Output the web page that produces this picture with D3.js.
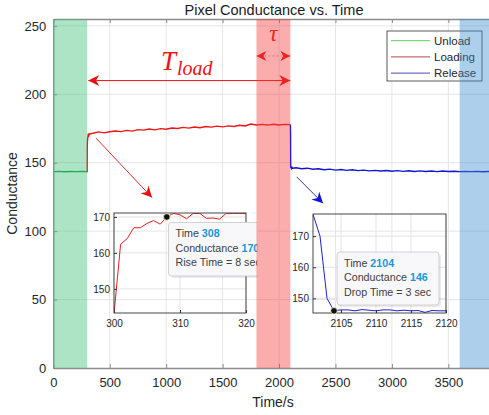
<!DOCTYPE html>
<html lang="en">
<head>
<meta charset="UTF-8">
<title>Pixel Conductance vs. Time</title>
<script src="https://cdn.jsdelivr.net/npm/d3@7"></script>
<style>
    body { margin: 0; background: #fff; }
    svg { font-family: Arial, "Liberation Sans", sans-serif; display: block; }
    .tick text { fill: #262626; }
</style>
</head>
<body>
<svg id="chart" width="489" height="415"></svg>
<script>
// ---- data ----
const xTicks = [0, 500, 1000, 1500, 2000, 2500, 3000, 3500];
const yTicks = [0, 50, 100, 150, 200, 250];

const unloadT = [0, 50, 100, 150, 200, 250, 300];
const unloadV = [143.5, 143.7, 143.4, 143.6, 143.5, 143.6, 143.5];

// rise detail (inset 1)
const riseT = [300, 301, 302, 303, 304, 305, 306, 307, 308, 309, 310, 311, 312, 313, 314, 315, 316, 317, 318, 319, 320];
const riseV = [143, 162.4, 164, 167, 167, 168.2, 169, 168, 170, 171, 170.6, 169.5, 171, 171, 169.6, 169.7, 169.4, 171, 171, 171, 171];

const loadT = [350, 400, 450, 500, 550, 600, 650, 700, 750, 800, 850, 900, 950, 1000, 1050, 1100, 1150, 1200,
    1250, 1300, 1350, 1400, 1450, 1500, 1550, 1600, 1650, 1700, 1750, 1800, 1850, 1900, 1950, 2000, 2050, 2100];
const loadV = [171.5, 172.5, 171.8, 172.6, 173.2, 172.7, 173.6, 173.1, 174.2, 173.8, 174.6, 174.0, 174.9, 174.5,
    175.4, 175.0, 175.8, 175.3, 176.1, 175.6, 176.4, 176.0, 176.7, 176.2, 176.9, 176.5, 177.4, 176.8, 178.3,
    177.6, 178.0, 177.5, 178.1, 177.6, 178.0, 177.8];

// drop detail (inset 2)
const dropT = [2101, 2102, 2103, 2104, 2105, 2106, 2107, 2108, 2109, 2110, 2111, 2112, 2113, 2114, 2115, 2116, 2117, 2118, 2119, 2120];
const dropV = [177, 170, 150, 146, 146.3, 146.3, 146, 146.4, 146.2, 146, 146.3, 146.3, 146, 146.2, 146, 146.1, 145.5, 146.1, 146, 146];

const releaseT = [2150, 2200, 2250, 2300, 2350, 2400, 2450, 2500, 2550, 2600, 2650, 2700, 2750, 2800, 2850, 2900,
    2950, 3000, 3050, 3100, 3150, 3200, 3250, 3300, 3350, 3400, 3450, 3500, 3550, 3600, 3650, 3700, 3750, 3800, 3850, 3900];
const releaseV = [146.3, 145.6, 146.0, 145.2, 145.6, 144.9, 145.3, 144.6, 145.0, 144.4, 144.8, 144.2, 144.6, 144.0,
    144.4, 143.9, 144.3, 143.8, 144.2, 143.7, 144.1, 143.6, 144.0, 143.6, 143.9, 143.5, 143.9, 143.6, 143.8, 143.5,
    143.7, 143.5, 143.7, 143.4, 143.6, 143.5];

const bands = [
    { from: 0, to: 300, color: "rgb(60,190,120)" },
    { from: 1800, to: 2100, color: "rgb(245,60,60)" },
    { from: 3600, to: 3900, color: "rgb(60,140,210)" }
];
const legendNames = ["Unload", "Loading", "Release"];
const legendColors = ["#5ad25a", "#c04545", "#4a4ab8"];

// ---- scales ----
const svg = d3.select("#chart");
const x = d3.scaleLinear().domain([0, 3900]).range([53.3, 493.5]);
const y = d3.scaleLinear().domain([0, 255]).range([368, 19]);
const fmt = d3.format("d");

const pt = (ts, vs) => ts.map((t, i) => [t, vs[i]]);
const line = (sx, sy) => d3.line().x(d => sx(d[0])).y(d => sy(d[1]));

const defs = svg.append("defs");
function marker(id, color, w, h) {
    defs.append("marker").attr("id", id)
        .attr("viewBox", "0 0 10 10").attr("refX", 10).attr("refY", 5)
        .attr("markerWidth", w).attr("markerHeight", h)
        .attr("markerUnits", "userSpaceOnUse").attr("orient", "auto-start-reverse")
        .append("path").attr("d", "M0,0 L10,5 L0,10 L3,5 Z").attr("fill", color);
}
marker("arRed", "#e81010", 14, 11);
marker("arRedS", "#e01010", 12, 10);
marker("arBlue", "#1010e0", 14, 11);

defs.append("clipPath").attr("id", "clipMain").append("rect")
    .attr("x", 53.3).attr("y", 19).attr("width", 440).attr("height", 349);
defs.append("clipPath").attr("id", "clipTip").append("rect")
    .attr("x", 0).attr("y", 0).attr("width", x(1800) + 1).attr("height", 415);

// ---- grid ----
const grid = svg.append("g");
grid.selectAll("line.gx").data(xTicks.slice(1)).enter().append("line")
    .attr("x1", d => x(d)).attr("x2", d => x(d)).attr("y1", y(0)).attr("y2", y(255))
    .attr("stroke", "#e6e6e6");
grid.selectAll("line.gy").data(yTicks.slice(1)).enter().append("line")
    .attr("x1", x(0)).attr("x2", 489).attr("y1", d => y(d)).attr("y2", d => y(d))
    .attr("stroke", "#e6e6e6");

// ---- main series ----
const main = svg.append("g").attr("clip-path", "url(#clipMain)");
main.append("path").datum(pt(unloadT, unloadV)).attr("d", line(x, y))
    .attr("fill", "none").attr("stroke", "#10a040").attr("stroke-width", 1.4);
main.append("path").datum(pt(riseT, riseV).concat(pt(loadT, loadV))).attr("d", line(x, y))
    .attr("fill", "none").attr("stroke", "#f01515").attr("stroke-width", 1.4);
main.append("path").datum([[2100, 177.8]].concat(pt(dropT, dropV), pt(releaseT, releaseV))).attr("d", line(x, y))
    .attr("fill", "none").attr("stroke", "#1515d0").attr("stroke-width", 1.4);

// ---- main axes ----
const axisColor = "#8c8c8c";
const gx = svg.append("g").attr("transform", `translate(0,${y(0)})`)
    .call(d3.axisBottom(x).tickValues(xTicks).tickFormat(fmt).tickSizeInner(-4).tickSizeOuter(0).tickPadding(10));
const gxTop = svg.append("g").attr("transform", `translate(0,${y(255)})`)
    .call(d3.axisTop(x).tickValues(xTicks).tickSizeInner(-4).tickSizeOuter(0).tickFormat(""));
const gy = svg.append("g").attr("transform", `translate(${x(0)},0)`)
    .call(d3.axisLeft(y).tickValues(yTicks).tickFormat(fmt).tickSizeInner(-4).tickSizeOuter(0).tickPadding(7));
[gx, gxTop, gy].forEach(g => {
    g.select(".domain").attr("stroke", axisColor).attr("stroke-width", 1.4);
    g.selectAll(".tick line").attr("stroke", axisColor);
    g.selectAll(".tick text").attr("font-size", 13);
});

// ---- insets ----
function inset(xd, yd, box, xt, yt, data, color) {
    const sx = d3.scaleLinear().domain(xd).range([box[0], box[1]]);
    const sy = d3.scaleLinear().domain(yd).range([box[3], box[2]]);
    const g = svg.append("g");
    const id = "clip" + box[0];
    defs.append("clipPath").attr("id", id).append("rect")
        .attr("x", box[0]).attr("y", box[2]).attr("width", box[1] - box[0]).attr("height", box[3] - box[2]);
    g.selectAll("line.vx").data(xt).enter().append("line")
        .attr("x1", d => sx(d)).attr("x2", d => sx(d)).attr("y1", box[2]).attr("y2", box[3]).attr("stroke", "#e3e3e3");
    g.selectAll("line.hy").data(yt).enter().append("line")
        .attr("x1", box[0]).attr("x2", box[1]).attr("y1", d => sy(d)).attr("y2", d => sy(d)).attr("stroke", "#e3e3e3");
    g.append("path").datum(data).attr("d", line(sx, sy)).attr("clip-path", `url(#${id})`)
        .attr("fill", "none").attr("stroke", color).attr("stroke-width", 1);
    g.append("rect").attr("x", box[0]).attr("y", box[2]).attr("width", box[1] - box[0]).attr("height", box[3] - box[2])
        .attr("fill", "none").attr("stroke", "#333").attr("stroke-width", 0.9);
    const ax = g.append("g").attr("transform", `translate(0,${box[3]})`)
        .call(d3.axisBottom(sx).tickValues(xt).tickFormat(fmt).tickSizeInner(-3).tickSizeOuter(0).tickPadding(7));
    const ay = g.append("g").attr("transform", `translate(${box[0]},0)`)
        .call(d3.axisLeft(sy).tickValues(yt).tickFormat(fmt).tickSizeInner(-3).tickSizeOuter(0).tickPadding(4));
    [ax, ay].forEach(a => {
        a.select(".domain").remove();
        a.selectAll(".tick line").attr("stroke", "#333");
        a.selectAll(".tick text").attr("font-size", 10);
    });
    return { sx, sy, g };
}

const in1 = inset([300, 320], [143.3, 171.1], [114, 246, 213, 313], [300, 310, 320], [150, 160, 170],
    pt(riseT, riseV), "#e02020");
const in2 = inset([2101, 2120], [145.3, 177.1], [313, 446, 214, 313], [2105, 2110, 2115, 2120], [150, 160, 170],
    pt(dropT, dropV), "#2020d0");

// ---- data tips ----
function tip(box, lines, clip) {
    const g = svg.append("g");
    if (clip) g.attr("clip-path", `url(#${clip})`);
    g.append("rect").attr("x", box[0] + 2).attr("y", box[1] + 2).attr("width", box[2]).attr("height", box[3])
        .attr("rx", 3).attr("fill", "#000").attr("opacity", 0.08);
    g.append("rect").attr("x", box[0]).attr("y", box[1]).attr("width", box[2]).attr("height", box[3])
        .attr("rx", 3).attr("fill", "#f8f8fa").attr("stroke", "#c8c8c8").attr("stroke-width", 0.8);
    lines.forEach((l, i) => {
        const t = g.append("text").attr("x", box[0] + 7).attr("y", box[1] + 14.5 + i * 14.7)
            .attr("font-size", 10.7).attr("fill", "#404040");
        t.append("tspan").text(l[0]);
        if (l[1]) t.append("tspan").text(" " + l[1]).attr("fill", "#1a96dc").attr("font-weight", "bold");
    });
}
tip([168.5, 222.5, 100, 53.5], [["Time", "308"], ["Conductance", "170"], ["Rise Time = 8 sec"]], "clipTip");
tip([337, 252, 102, 53], [["Time", "2104"], ["Conductance", "146"], ["Drop Time = 3 sec"]]);

svg.append("circle").attr("cx", in1.sx(308)).attr("cy", in1.sy(170)).attr("r", 3.3)
    .attr("fill", "#111").attr("stroke", "#f4f0c0").attr("stroke-width", 0.8);
svg.append("circle").attr("cx", in2.sx(2104)).attr("cy", in2.sy(146)).attr("r", 3.3)
    .attr("fill", "#111").attr("stroke", "#f4f0c0").attr("stroke-width", 0.8);

// ---- legend ----
const lg = svg.append("g");
lg.append("rect").attr("x", 387).attr("y", 31).attr("width", 95).attr("height", 50)
    .attr("fill", "#fff").attr("stroke", "#333").attr("stroke-width", 0.8);
legendNames.forEach((n, i) => {
    const yy = 40.7 + i * 16.2;
    lg.append("line").attr("x1", 391).attr("x2", 430).attr("y1", yy).attr("y2", yy)
        .attr("stroke", legendColors[i]).attr("stroke-width", 1);
    lg.append("text").attr("x", 434).attr("y", yy + 4).attr("font-size", 11.5).attr("fill", "#262626").text(n);
});

// ---- annotations ----
const ann = svg.append("g");
ann.append("line").attr("x1", x(310)).attr("x2", x(2100)).attr("y1", y(210)).attr("y2", y(210))
    .attr("stroke", "#e81010").attr("stroke-width", 1)
    .attr("marker-start", "url(#arRed)").attr("marker-end", "url(#arRed)");
ann.append("line").attr("x1", x(1800)).attr("x2", x(2100)).attr("y1", y(228)).attr("y2", y(228))
    .attr("stroke", "#f08080").attr("stroke-width", 0.8).attr("stroke-dasharray", "2,2")
    .attr("marker-start", "url(#arRedS)").attr("marker-end", "url(#arRedS)");
ann.append("line").attr("x1", x(378)).attr("x2", x(875)).attr("y1", y(168)).attr("y2", y(124.5))
    .attr("stroke", "#d83030").attr("stroke-width", 1).attr("marker-end", "url(#arRed)");
ann.append("line").attr("x1", x(2157)).attr("x2", x(2390)).attr("y1", y(139.6)).attr("y2", y(120.3))
    .attr("stroke", "#3030c8").attr("stroke-width", 1).attr("marker-end", "url(#arBlue)");

const tl = ann.append("text").attr("x", 161).attr("y", 70).attr("fill", "#f01010")
    .attr("font-family", "'Liberation Serif', 'DejaVu Serif', serif").attr("font-style", "italic");
tl.append("tspan").attr("font-size", 27).text("T");
tl.append("tspan").attr("font-size", 20).attr("dy", 5).attr("dx", 1).text("load");
ann.append("text").attr("x", x(1950)).attr("y", 41).attr("text-anchor", "middle").attr("fill", "#f01010")
    .attr("font-family", "'Liberation Serif', 'DejaVu Serif', serif").attr("font-style", "italic")
    .attr("font-size", 23).text("τ");

// ---- shaded bands (drawn on top, translucent) ----
svg.append("g").selectAll("rect").data(bands).enter().append("rect")
    .attr("x", d => x(d.from)).attr("width", d => x(d.to) - x(d.from))
    .attr("y", y(255)).attr("height", y(0) - y(255))
    .attr("fill", d => d.color).attr("opacity", 0.42);

// ---- titles ----
svg.append("text").attr("x", 274).attr("y", 14.5).attr("text-anchor", "middle")
    .attr("font-size", 14.5).attr("fill", "#1a1a1a").text("Pixel Conductance vs. Time");
svg.append("text").attr("x", 273).attr("y", 407).attr("text-anchor", "middle")
    .attr("font-size", 14).attr("fill", "#262626").text("Time/s");
svg.append("text").attr("transform", `translate(17,${(y(0) + y(255)) / 2}) rotate(-90)`)
    .attr("text-anchor", "middle").attr("font-size", 14).attr("fill", "#262626").text("Conductance");
</script>
</body>
</html>
